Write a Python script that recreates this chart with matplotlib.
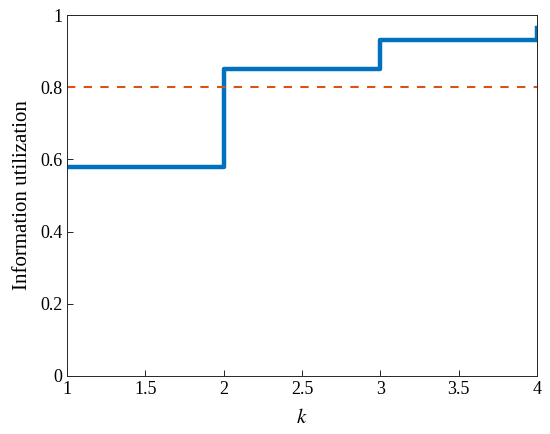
import matplotlib.pyplot as plt

k = [1, 2, 3, 4, 4]
utilization = [0.58, 0.85, 0.93, 0.93, 0.965]
threshold = 0.8

plt.rcParams['font.family'] = ['Liberation Serif', 'DejaVu Serif']
plt.rcParams['mathtext.fontset'] = 'stix'

fig = plt.figure(figsize=(5.5, 4.34), dpi=100)
ax = fig.add_axes([67 / 550, 1 - 376 / 434, 470 / 550, 361 / 434])

ax.step(k, utilization, where='post', color='#0072BD', linewidth=3.2)
ax.axhline(threshold, color='#D95319', linestyle=(0, (4, 4)), linewidth=1.5)

ax.set_xlim(1, 4)
ax.set_ylim(0, 1)
ax.set_xticks([1, 1.5, 2, 2.5, 3, 3.5, 4])
ax.set_xticklabels(['1', '1.5', '2', '2.5', '3', '3.5', '4'])
ax.set_yticks([0, 0.2, 0.4, 0.6, 0.8, 1])
ax.set_yticklabels(['0', '0.2', '0.4', '0.6', '0.8', '1'])
ax.tick_params(direction='in', labelsize=13, length=4, width=0.6, top=False, right=False)
for s in ax.spines.values():
    s.set_linewidth(0.7)
    s.set_color('#262626')

ax.set_xlabel('$k$', fontsize=15, labelpad=8)
ax.set_ylabel('Information utilization', fontsize=15, labelpad=6)

fig.savefig('out.png', dpi=100)
